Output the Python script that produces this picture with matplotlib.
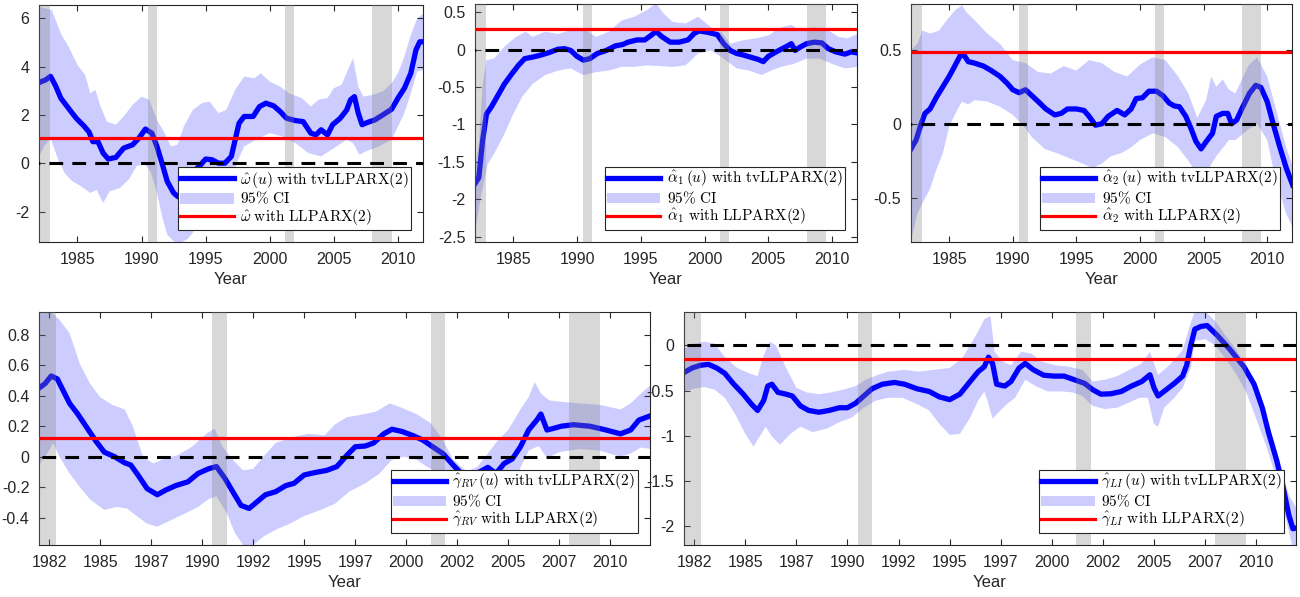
import matplotlib
matplotlib.use('Agg')
import matplotlib.pyplot as plt
import numpy as np

plt.rcParams['font.family'] = ['Liberation Sans', 'DejaVu Sans']
plt.rcParams['mathtext.fontset'] = 'cm'
plt.rcParams['axes.unicode_minus'] = False

# recession periods (shaded)
recessions = [(1981.5, 1982.85), (1990.5, 1991.2), (2001.2, 2001.9), (2008.0, 2009.5)]

# ---- omega ----
om_t = [1982.0, 1982.5, 1982.9, 1983.3, 1983.7, 1984.3, 1984.9, 1985.5, 1985.9, 1986.2, 1986.6, 1987.0,
        1987.4, 1988.0, 1988.6, 1989.3, 1989.8, 1990.3, 1990.8, 1991.2, 1991.6, 1992.0, 1992.5, 1992.8,
        1993.3, 1994.0, 1994.5, 1995.0, 1995.5, 1996.0, 1996.5, 1997.0, 1997.3, 1997.6, 1998.0, 1998.7,
        1999.2, 1999.7, 2000.3, 2000.8, 2001.3, 2002.0, 2002.6, 2003.2, 2003.6, 2004.0, 2004.5, 2004.9,
        2005.5, 2006.0, 2006.3, 2006.6, 2006.9, 2007.2, 2007.6, 2008.2, 2008.8, 2009.5, 2010.0, 2010.5,
        2011.0, 2011.4, 2011.7, 2012.0]
om_est = [3.34, 3.45, 3.6, 3.2, 2.7, 2.28, 1.87, 1.55, 1.3, 0.9, 0.9, 0.43,
          0.18, 0.25, 0.63, 0.77, 1.05, 1.42, 1.25, 0.7, 0.0, -0.74, -1.22, -1.36,
          -1.5, -0.35, -0.12, 0.18, 0.15, 0.01, 0.01, 0.29, 0.98, 1.66, 1.94, 1.94,
          2.35, 2.49, 2.38, 2.15, 1.87, 1.77, 1.73, 1.25, 1.18, 1.39, 1.18, 1.6,
          1.87, 2.21, 2.63, 2.76, 2.08, 1.6, 1.69, 1.8, 2.0, 2.24, 2.7, 3.11,
          3.73, 4.69, 5.03, 5.03]
om_up_t = [1982.0, 1982.5, 1983.0, 1983.7, 1984.3, 1985.0, 1985.6, 1986.0, 1986.4, 1986.8, 1987.3, 1988.0,
           1988.6, 1989.3, 1990.0, 1990.6, 1991.2, 1991.8, 1992.3, 1992.8, 1993.3, 1994.0, 1994.7, 1995.3,
           1996.0, 1996.6, 1997.3, 1998.0, 1998.8, 1999.3, 2000.0, 2000.8, 2001.5, 2002.5, 2003.2, 2003.8,
           2004.5, 2005.0, 2005.6, 2006.2, 2006.5, 2006.9, 2007.3, 2008.0, 2008.8, 2009.5, 2010.0, 2010.5,
           2011.0, 2011.5, 2012.0]
om_up = [6.48, 6.41, 6.34, 5.38, 4.83, 4.07, 3.66, 2.9, 3.04, 2.35, 1.73, 1.6,
         1.94, 2.42, 2.76, 2.63, 1.8, 1.25, 0.7, 0.77, 1.53, 2.21, 2.49, 2.56,
         2.08, 2.21, 3.04, 3.59, 3.52, 3.73, 3.38, 3.18, 2.9, 2.7, 2.35, 2.63,
         2.7, 3.11, 3.25, 4.0, 4.35, 3.18, 2.76, 2.83, 2.97, 3.31, 3.73, 4.42,
         5.31, 6.0, 6.2]
om_lo_t = [1982.0, 1982.4, 1982.9, 1983.5, 1984.0, 1984.6, 1985.3, 1986.0, 1986.5, 1987.0, 1987.5, 1988.3,
           1989.0, 1989.6, 1990.2, 1990.7, 1991.2, 1991.6, 1992.0, 1992.5, 1993.0, 1993.6, 1994.0, 1995.0,
           1996.0, 1997.0, 1997.5, 1998.0, 1999.0, 2000.0, 2001.0, 2002.0, 2003.0, 2004.0, 2005.0, 2006.0,
           2006.5, 2007.0, 2007.5, 2008.5, 2009.5, 2010.5, 2011.0, 2011.5, 2012.0]
om_lo = [0.29, 0.7, 1.05, 0.15, -0.4, -0.74, -0.95, -1.22, -1.09, -1.64, -1.16, -1.02,
         -0.67, -0.12, 0.01, -0.33, -1.22, -2.19, -2.94, -3.22, -3.3, -3.12, -2.87, -1.6,
         -1.2, -0.6, 0.1, 0.7, 1.0, 1.25, 1.11, 0.84, 0.43, 0.29, 0.63, 0.98,
         0.84, 0.36, 0.5, 0.7, 0.98, 2.08, 2.9, 3.8, 3.87]
om_const = 1.05

# ---- alpha_1 ----
a1_t = [1982.0, 1982.3, 1982.6, 1982.9, 1983.3, 1983.8, 1984.3, 1984.9, 1985.4, 1985.9, 1986.5, 1987.0,
        1987.7, 1988.5, 1989.0, 1989.5, 1990.0, 1990.5, 1991.0, 1991.6, 1992.3, 1993.0, 1993.6, 1994.0,
        1994.7, 1995.3, 1995.8, 1996.2, 1996.6, 1997.3, 1998.0, 1998.7, 1999.2, 1999.6, 2000.3, 2001.0,
        2001.5, 2002.0, 2002.5, 2003.0, 2003.6, 2004.2, 2004.6, 2005.0, 2005.6, 2006.0, 2006.5, 2006.8,
        2007.1, 2007.5, 2008.0, 2008.6, 2009.2, 2009.7, 2010.3, 2011.0, 2011.5, 2012.0]
a1_est = [-1.79, -1.71, -1.21, -0.86, -0.76, -0.61, -0.46, -0.32, -0.21, -0.12, -0.10, -0.08,
          -0.045, 0.005, 0.013, -0.01, -0.09, -0.14, -0.12, -0.05, -0.01, 0.05, 0.07, 0.10,
          0.13, 0.13, 0.19, 0.245, 0.18, 0.10, 0.10, 0.13, 0.22, 0.25, 0.23, 0.20,
          0.08, -0.01, -0.05, -0.07, -0.10, -0.13, -0.16, -0.09, -0.03, 0.005, 0.05, 0.08,
          -0.01, 0.035, 0.08, 0.10, 0.09, 0.013, -0.03, -0.06, -0.03, -0.045]
a1_up_t = [1982.0, 1982.3, 1982.6, 1982.9, 1983.5, 1984.3, 1985.2, 1986.0, 1986.5, 1987.5, 1988.5, 1989.5,
           1990.5, 1991.5, 1992.5, 1993.5, 1994.5, 1995.5, 1996.2, 1996.8, 1997.5, 1998.5, 1999.5, 2000.5,
           2001.3, 2002.0, 2003.0, 2004.0, 2005.0, 2006.0, 2006.8, 2007.5, 2008.5, 2009.5, 2010.5, 2011.2,
           2012.0]
a1_up = [-1.6, -1.26, -0.46, -0.14, -0.12, 0.04, 0.17, 0.24, 0.17, 0.24, 0.21, 0.26,
         0.28, 0.17, 0.24, 0.39, 0.44, 0.53, 0.62, 0.48, 0.37, 0.35, 0.44, 0.30,
         0.24, 0.08, 0.125, 0.15, 0.19, 0.30, 0.33, 0.26, 0.30, 0.28, 0.17, 0.15,
         0.21]
a1_lo_t = [1982.0, 1982.5, 1983.0, 1983.5, 1984.3, 1985.0, 1985.7, 1986.5, 1987.5, 1988.5, 1989.5, 1990.5,
           1991.5, 1992.5, 1993.5, 1994.5, 1995.5, 1996.5, 1997.5, 1998.5, 1999.5, 2000.5, 2001.5, 2002.5,
           2003.5, 2004.5, 2005.2, 2006.0, 2007.0, 2008.0, 2009.0, 2010.0, 2011.0, 2012.0]
a1_lo = [-2.45, -1.93, -1.53, -1.39, -1.13, -0.86, -0.63, -0.46, -0.34, -0.28, -0.25, -0.34,
         -0.30, -0.28, -0.23, -0.23, -0.21, -0.22, -0.23, -0.21, -0.05, -0.01, -0.12, -0.25,
         -0.28, -0.34, -0.28, -0.23, -0.19, -0.12, -0.12, -0.19, -0.25, -0.23]
a1_const = 0.28

# ---- alpha_2 ----
a2_t = [1982.0, 1982.4, 1982.8, 1983.1, 1983.5, 1984.0, 1984.5, 1985.0, 1985.5, 1985.9, 1986.2, 1986.5,
        1987.0, 1987.7, 1988.3, 1989.0, 1989.6, 1990.0, 1990.5, 1991.0, 1991.5, 1992.0, 1992.6, 1993.3,
        1993.8, 1994.3, 1995.0, 1995.6, 1996.0, 1996.5, 1997.0, 1997.5, 1998.2, 1998.8, 1999.3, 1999.7,
        2000.2, 2000.7, 2001.3, 2001.8, 2002.3, 2002.7, 2003.1, 2003.6, 2004.0, 2004.4, 2004.8, 2005.3,
        2005.7, 2006.0, 2006.5, 2006.9, 2007.2, 2007.6, 2008.0, 2008.6, 2009.1, 2009.5, 2010.0, 2010.5,
        2011.0, 2011.5, 2012.0]
a2_est = [-0.17, -0.11, 0.0, 0.07, 0.10, 0.18, 0.25, 0.32, 0.40, 0.465, 0.46, 0.42,
          0.41, 0.39, 0.36, 0.32, 0.27, 0.23, 0.21, 0.23, 0.19, 0.15, 0.10, 0.06,
          0.07, 0.10, 0.10, 0.09, 0.05, -0.01, 0.0, 0.05, 0.09, 0.06, 0.10, 0.17,
          0.176, 0.22, 0.22, 0.19, 0.14, 0.12, 0.115, 0.05, -0.03, -0.12, -0.17, -0.11,
          -0.065, 0.05, 0.07, 0.07, 0.0, 0.025, 0.10, 0.205, 0.26, 0.246, 0.15, -0.01,
          -0.16, -0.30, -0.415]
a2_up_t = [1982.0, 1982.5, 1982.9, 1983.5, 1984.2, 1984.8, 1985.5, 1986.0, 1986.4, 1987.0, 1988.0, 1989.0,
           1990.0, 1991.0, 1992.0, 1993.0, 1994.0, 1995.0, 1996.0, 1997.0, 1998.0, 1999.0, 2000.0, 2001.0,
           2002.0, 2003.0, 2003.8, 2004.5, 2005.2, 2005.6, 2006.0, 2006.5, 2007.0, 2007.5, 2008.5, 2009.2,
           2010.0, 2010.5, 2011.0, 2011.5, 2012.0]
a2_up = [0.50, 0.54, 0.63, 0.61, 0.63, 0.70, 0.77, 0.80, 0.75, 0.70, 0.61, 0.54,
         0.43, 0.41, 0.35, 0.34, 0.39, 0.36, 0.43, 0.41, 0.35, 0.32, 0.40, 0.45,
         0.43, 0.32, 0.205, 0.04, 0.16, 0.32, 0.25, 0.30, 0.23, 0.205, 0.39, 0.45,
         0.32, 0.16, 0.0, -0.16, -0.29]
a2_lo_t = [1982.0, 1982.5, 1983.0, 1983.5, 1984.0, 1984.5, 1985.0, 1985.5, 1986.0, 1986.5, 1987.0, 1988.0,
           1989.0, 1990.0, 1990.8, 1991.5, 1992.5, 1993.5, 1994.5, 1995.5, 1996.3, 1997.0, 1997.7, 1998.5,
           1999.3, 2000.0, 2001.0, 2002.0, 2003.0, 2003.8, 2004.5, 2005.0, 2006.0, 2007.0, 2007.5, 2008.5,
           2009.2, 2010.0, 2010.5, 2011.0, 2011.5, 2012.0]
a2_lo = [-0.79, -0.61, -0.52, -0.44, -0.31, -0.20, -0.02, 0.07, 0.15, 0.13, 0.16, 0.15,
         0.115, 0.06, -0.01, -0.09, -0.17, -0.20, -0.235, -0.27, -0.30, -0.27, -0.22, -0.20,
         -0.16, -0.11, -0.065, -0.09, -0.16, -0.25, -0.34, -0.36, -0.22, -0.11, -0.11, -0.04,
         0.0, -0.11, -0.31, -0.47, -0.61, -0.70]
a2_const = 0.488

# ---- gamma_RV ----
rv_t = [1982.0, 1982.3, 1982.6, 1982.9, 1983.2, 1983.5, 1983.9, 1984.3, 1984.8, 1985.2, 1985.7, 1986.2,
        1986.5, 1986.9, 1987.3, 1987.8, 1988.2, 1988.7, 1989.3, 1989.8, 1990.3, 1990.7, 1991.1, 1991.5,
        1991.9, 1992.3, 1992.7, 1993.1, 1993.6, 1994.1, 1994.5, 1995.0, 1995.5, 1996.1, 1996.6, 1997.1,
        1997.5, 1998.0, 1998.4, 1998.9, 1999.3, 1999.8, 2000.3, 2000.8, 2001.3, 2001.8, 2002.3, 2002.7,
        2003.2, 2003.6, 2004.0, 2004.4, 2004.8, 2005.2, 2005.6, 2006.0, 2006.4, 2006.6, 2006.9, 2007.2,
        2007.6, 2008.2, 2009.0, 2009.8, 2010.5, 2011.0, 2011.4, 2012.0]
rv_est = [0.45, 0.48, 0.53, 0.51, 0.43, 0.35, 0.28, 0.20, 0.10, 0.03, 0.0, -0.04,
          -0.055, -0.13, -0.21, -0.25, -0.22, -0.19, -0.165, -0.11, -0.08, -0.065, -0.14, -0.23,
          -0.32, -0.34, -0.295, -0.25, -0.23, -0.19, -0.175, -0.12, -0.105, -0.09, -0.065, 0.01,
          0.065, 0.07, 0.09, 0.15, 0.18, 0.165, 0.14, 0.11, 0.065, 0.02, -0.055, -0.11,
          -0.115, -0.10, -0.07, -0.11, -0.045, -0.015, 0.065, 0.175, 0.24, 0.28, 0.175, 0.185,
          0.20, 0.21, 0.20, 0.175, 0.15, 0.175, 0.24, 0.27]
rv_up_t = [1982.0, 1982.5, 1983.0, 1983.5, 1984.0, 1984.5, 1985.0, 1985.6, 1986.2, 1986.6, 1987.1, 1987.6,
           1988.2, 1988.8, 1989.5, 1990.2, 1990.6, 1991.0, 1991.5, 1992.0, 1992.5, 1993.0, 1993.6, 1994.5,
           1995.2, 1996.0, 1996.5, 1997.1, 1997.6, 1998.5, 1999.2, 1999.8, 2000.5, 2001.2, 2001.8, 2002.3,
           2003.0, 2003.5, 2004.0, 2004.5, 2005.0, 2005.6, 2006.0, 2006.3, 2006.6, 2007.0, 2007.6, 2008.5,
           2009.5, 2010.5, 2011.0, 2011.5, 2012.0]
rv_up = [0.96, 0.96, 0.90, 0.81, 0.61, 0.48, 0.39, 0.34, 0.31, 0.20, 0.0, -0.045,
         -0.01, 0.01, 0.065, 0.15, 0.185, 0.065, -0.02, -0.09, -0.08, 0.0, 0.09, 0.13,
         0.15, 0.14, 0.21, 0.26, 0.27, 0.295, 0.35, 0.32, 0.28, 0.22, 0.11, -0.02,
         -0.10, -0.065, 0.02, 0.11, 0.175, 0.31, 0.39, 0.49, 0.415, 0.37, 0.36, 0.35,
         0.34, 0.31, 0.35, 0.415, 0.47]
rv_lo_t = [1982.0, 1982.4, 1982.7, 1983.0, 1983.5, 1984.0, 1984.5, 1985.2, 1985.8, 1986.3, 1986.8, 1987.3,
           1987.8, 1988.5, 1989.2, 1989.8, 1990.3, 1990.7, 1991.2, 1991.6, 1992.0, 1992.5, 1993.0, 1993.6,
           1994.3, 1995.0, 1995.8, 1996.5, 1997.2, 1998.0, 1998.7, 1999.3, 1999.9, 2000.5, 2001.0, 2001.8,
           2002.5, 2003.3, 2004.0, 2004.8, 2005.5, 2006.0, 2006.5, 2006.9, 2007.5, 2008.5, 2009.5, 2010.5,
           2011.0, 2011.5, 2012.0]
rv_lo = [-0.055, 0.02, 0.09, 0.0, -0.11, -0.20, -0.28, -0.35, -0.33, -0.34, -0.39, -0.44,
         -0.46, -0.415, -0.37, -0.33, -0.28, -0.26, -0.37, -0.50, -0.58, -0.58, -0.525, -0.48,
         -0.44, -0.39, -0.35, -0.31, -0.23, -0.175, -0.11, -0.02, 0.0, -0.02, -0.065, -0.12,
         -0.22, -0.25, -0.22, -0.17, -0.10, 0.04, 0.07, -0.01, 0.03, 0.05, 0.04, 0.0,
         0.02, 0.06, 0.05]
rv_const = 0.12

# ---- gamma_LI ----
li_t = [1982.0, 1982.4, 1982.8, 1983.2, 1983.6, 1984.0, 1984.4, 1984.9, 1985.3, 1985.6, 1985.9, 1986.1,
        1986.3, 1986.6, 1987.0, 1987.3, 1987.7, 1988.1, 1988.6, 1989.1, 1989.6, 1990.0, 1990.4, 1990.8,
        1991.2, 1991.7, 1992.3, 1992.8, 1993.4, 1994.0, 1994.5, 1995.0, 1995.5, 1996.0, 1996.4, 1996.7,
        1996.9, 1997.1, 1997.3, 1997.7, 1998.0, 1998.4, 1998.7, 1999.1, 1999.6, 2000.1, 2000.6, 2001.1,
        2001.6, 2002.0, 2002.4, 2002.9, 2003.4, 2003.9, 2004.4, 2004.8, 2005.0, 2005.2, 2005.6, 2006.0,
        2006.4, 2006.6, 2006.8, 2007.0, 2007.3, 2007.6, 2008.1, 2008.7, 2009.4, 2009.9, 2010.3, 2010.6,
        2011.0, 2011.3, 2011.6, 2011.8, 2012.0]
li_est = [-0.30, -0.25, -0.22, -0.21, -0.25, -0.31, -0.42, -0.54, -0.65, -0.72, -0.61, -0.45,
          -0.43, -0.52, -0.54, -0.56, -0.67, -0.72, -0.74, -0.72, -0.69, -0.69, -0.64, -0.56,
          -0.48, -0.43, -0.41, -0.43, -0.48, -0.51, -0.57, -0.60, -0.54, -0.40, -0.29, -0.235,
          -0.13, -0.20, -0.43, -0.45, -0.40, -0.25, -0.20, -0.27, -0.33, -0.34, -0.34, -0.38,
          -0.42, -0.49, -0.54, -0.535, -0.51, -0.45, -0.40, -0.325, -0.47, -0.56, -0.49, -0.42,
          -0.34, -0.22, 0.0, 0.18, 0.21, 0.22, 0.11, -0.04, -0.235, -0.43, -0.69, -0.96,
          -1.27, -1.55, -1.88, -2.03, -2.02]
li_up_t = [1982.0, 1982.5, 1983.0, 1983.5, 1984.0, 1984.6, 1985.2, 1985.6, 1985.9, 1986.2, 1986.5, 1987.0,
           1987.5, 1988.0, 1988.6, 1989.2, 1989.8, 1990.4, 1990.9, 1991.5, 1992.0, 1992.8, 1993.5, 1994.2,
           1995.0, 1995.6, 1996.0, 1996.4, 1996.7, 1997.0, 1997.2, 1997.6, 1998.0, 1998.5, 1999.0, 1999.5,
           2000.2, 2000.8, 2001.5, 2002.0, 2002.6, 2003.2, 2003.8, 2004.4, 2004.8, 2005.2, 2005.6, 2006.0,
           2006.4, 2006.8, 2007.0, 2007.5, 2008.0, 2008.5, 2009.0, 2009.5, 2010.0, 2010.5, 2011.0, 2011.3,
           2011.6, 2012.0]
li_up = [-0.04, 0.02, 0.04, 0.02, -0.13, -0.25, -0.31, -0.34, -0.11, 0.04, 0.0, -0.25,
         -0.47, -0.52, -0.54, -0.52, -0.49, -0.45, -0.38, -0.325, -0.29, -0.27, -0.29, -0.27,
         -0.25, -0.145, 0.0, 0.16, 0.29, 0.325, -0.07, -0.18, -0.22, -0.07, -0.09, -0.18,
         -0.22, -0.235, -0.27, -0.40, -0.38, -0.34, -0.27, -0.20, -0.07, -0.325, -0.25, -0.16,
         -0.05, 0.25, 0.38, 0.38, 0.27, 0.11, -0.04, -0.235, -0.47, -0.80, -1.16, -1.41,
         -1.66, -1.81]
li_lo_t = [1982.0, 1982.5, 1983.0, 1983.5, 1984.0, 1984.5, 1985.0, 1985.4, 1985.7, 1986.0, 1986.3, 1986.7,
           1987.2, 1987.7, 1988.3, 1989.0, 1989.6, 1990.2, 1990.8, 1991.4, 1992.0, 1992.7, 1993.4, 1994.0,
           1994.5, 1995.0, 1995.5, 1996.0, 1996.4, 1996.7, 1996.9, 1997.1, 1997.4, 1997.8, 1998.2, 1998.7,
           1999.2, 1999.8, 2000.5, 2001.0, 2001.5, 2002.0, 2002.6, 2003.2, 2003.8, 2004.3, 2004.7, 2005.0,
           2005.2, 2005.5, 2006.0, 2006.4, 2006.8, 2007.0, 2007.5, 2008.0, 2008.5, 2009.0, 2009.5, 2010.0,
           2010.5, 2011.0, 2011.3, 2011.6, 2011.8, 2012.0]
li_lo = [-0.51, -0.48, -0.46, -0.49, -0.58, -0.76, -0.98, -1.12, -1.01, -0.90, -1.01, -1.10,
         -0.98, -0.90, -0.96, -0.92, -0.85, -0.80, -0.69, -0.61, -0.58, -0.58, -0.65, -0.72,
         -0.87, -0.99, -0.98, -0.80, -0.61, -0.51, -0.65, -0.81, -0.74, -0.65, -0.58, -0.38,
         -0.45, -0.51, -0.51, -0.52, -0.56, -0.67, -0.705, -0.69, -0.63, -0.58, -0.58, -0.87,
         -0.90, -0.69, -0.58, -0.47, -0.25, 0.05, 0.07, 0.0, -0.145, -0.31, -0.51, -0.81,
         -1.12, -1.48, -1.77, -2.06, -2.25, -2.25]
li_const = -0.148

top_ticks = [1985, 1990, 1995, 2000, 2005, 2010]
bottom_ticks = [1982.5, 1985, 1987.5, 1990, 1992.5, 1995, 1997.5, 2000, 2002.5, 2005, 2007.5, 2010]
bottom_ticklabels = ['1982', '1985', '1987', '1990', '1992', '1995', '1997', '2000', '2002', '2005', '2007', '2010']

W, H = 1300, 597
fig = plt.figure(figsize=(W / 100, H / 100), dpi=100)


def px_axes(x0, y0, x1, y1):
    return fig.add_axes([x0 / W, 1 - y1 / H, (x1 - x0) / W, (y1 - y0) / H])


def panel(ax, t, est, ut, up, lt, lo, const, sym, ylim, yticks, xticks, xticklabels=None):
    poly_x = np.r_[ut, lt[::-1]]
    poly_y = np.r_[up, lo[::-1]]
    ci = ax.fill(poly_x, poly_y, color='blue', alpha=0.2, lw=0, zorder=1)[0]
    est_line, = ax.plot(t, est, color='blue', lw=3.8, zorder=2)
    for a, b in recessions:
        ax.axvspan(a, b, color=(0.5, 0.5, 0.5), alpha=0.3, lw=0, zorder=3)
    red, = ax.plot([1981, 2013], [const, const], color='red', lw=2.3, zorder=4)
    ax.plot([1981, 2013], [0, 0], color='black', lw=2.2, dashes=(4.5, 3), zorder=5)
    ax.set_xlim(1982.0, 2011.95)
    ax.set_ylim(*ylim)
    ax.set_yticks(yticks)
    ax.set_yticklabels(['%g' % v for v in yticks])
    ax.set_xticks(xticks)
    if xticklabels is not None:
        ax.set_xticklabels(xticklabels)
    else:
        ax.set_xticklabels([str(v) for v in xticks])
    ax.tick_params(direction='in', top=True, right=True, length=4, width=0.8,
                   labelsize=11.5, colors='0.15', pad=7)
    for s in ax.spines.values():
        s.set_color('0.15')
        s.set_linewidth(0.8)
    ax.set_xlabel('Year', fontsize=12, color='0.15', labelpad=4)
    labels = [r'$%s\,(u)\ \mathrm{with\ tvLLPARX(2)}$' % sym,
              r'$\mathrm{95\%\ CI}$',
              r'$%s\ \mathrm{with\ LLPARX(2)}$' % sym]
    leg = ax.legend([est_line, ci, red], labels, loc='lower right', fontsize=11,
                    handlelength=3.5, handletextpad=0.4, borderpad=0.15, labelspacing=0.05,
                    borderaxespad=0.8, fancybox=False, framealpha=1, edgecolor='0.15')
    leg.get_frame().set_linewidth(0.8)
    leg.set_zorder(10)


ax1 = px_axes(39, 5, 423, 242)
panel(ax1, om_t, om_est, om_up_t, om_up, om_lo_t, om_lo, om_const, r'\hat{\omega}',
      (-3.25, 6.55), [-2, 0, 2, 4, 6], top_ticks)

ax2 = px_axes(475, 4, 857, 242)
panel(ax2, a1_t, a1_est, a1_up_t, a1_up, a1_lo_t, a1_lo, a1_const, r'\hat{\alpha}_1',
      (-2.57, 0.61), [-2.5, -2, -1.5, -1, -0.5, 0, 0.5], top_ticks)

ax3 = px_axes(911, 4, 1292, 242)
panel(ax3, a2_t, a2_est, a2_up_t, a2_up, a2_lo_t, a2_lo, a2_const, r'\hat{\alpha}_2',
      (-0.80, 0.81), [-0.5, 0, 0.5], top_ticks)

ax4 = px_axes(39, 312, 650, 545)
panel(ax4, rv_t, rv_est, rv_up_t, rv_up, rv_lo_t, rv_lo, rv_const, r'\hat{\gamma}_{RV}',
      (-0.58, 0.95), [-0.4, -0.2, 0, 0.2, 0.4, 0.6, 0.8], bottom_ticks, bottom_ticklabels)

ax5 = px_axes(684, 312, 1296, 545)
panel(ax5, li_t, li_est, li_up_t, li_up, li_lo_t, li_lo, li_const, r'\hat{\gamma}_{LI}',
      (-2.21, 0.37), [-2, -1.5, -1, -0.5, 0], bottom_ticks, bottom_ticklabels)

fig.savefig('out.png', dpi=100)
